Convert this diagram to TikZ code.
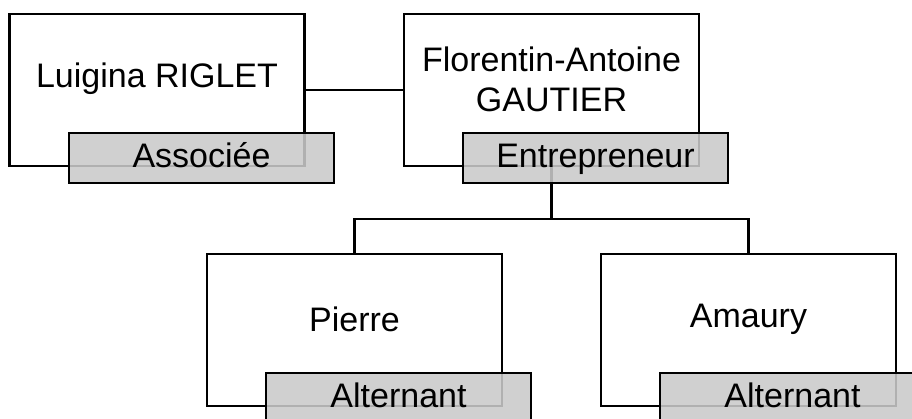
\documentclass[tikz,border=0pt]{standalone}
\usepackage{fontspec}
\setmainfont{Liberation Sans}
\definecolor{tagfill}{gray}{0.79}

\begin{document}
\begin{tikzpicture}[
        x=1pt, y=-1pt,
        every node/.style={font=\fontsize{34}{40}\selectfont, inner sep=0pt},
        person/.style={draw, line width=2.8pt, minimum width=295pt, minimum height=152pt},
        role/.style={draw, line width=2.8pt, fill=tagfill, fill opacity=0.88, text opacity=1,
            minimum width=265pt, minimum height=50pt, text height=25pt, text depth=7pt},
        ln/.style={line width=2.8pt},
    ]
    \useasboundingbox (0,0) rectangle (912,418);
    \clip (0,0) rectangle (912,418);

    \node[person](luigina) at (157,90) {};
    \node[person](florentin) at (551.5,90) {};
    \node[person](pierre) at (354.5,330) {};
    \node[person](amaury) at (748.5,330) {};

    \node[](luiginaname) at (157,79) {Luigina RIGLET};
    \node[align=center](florentinname) at (551.5,79) {Florentin-Antoine\\GAUTIER};
    \node[](pierrename) at (354.5,319) {Pierre};
    \node[](amauryname) at (748.5,319) {Amaury};

    \coordinate (bus) at (551.5,219);
    \path[ln]
    (luigina) edge (florentin)
    (florentin.south) edge (bus)
    ;
    \draw[ln] (bus) -| (pierre.north);
    \draw[ln] (bus) -| (amaury.north);

    \node[role](associee) at (201.5,158) {Associée};
    \node[role](entrepreneur) at (595.5,158) {Entrepreneur};
    \node[role](alternant1) at (398.5,398) {Alternant};
    \node[role](alternant2) at (792.5,398) {Alternant};
\end{tikzpicture}
\end{document}
